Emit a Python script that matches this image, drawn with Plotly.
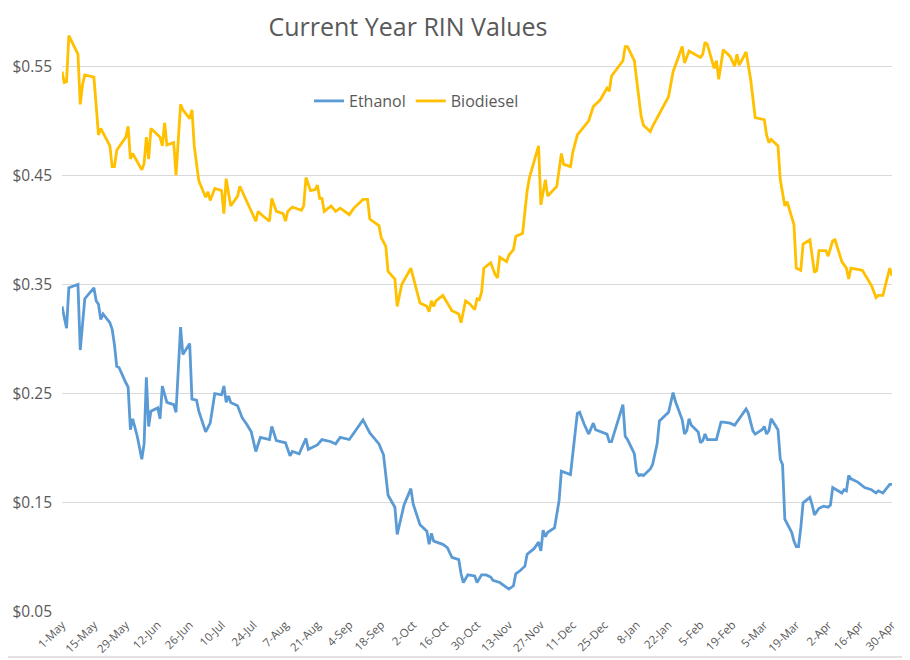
import plotly.graph_objects as go
import pandas as pd

title_text = "Current Year RIN Values"
series_names = ["Ethanol", "Biodiesel"]

bio_dates = ["2017-05-01","2017-05-02","2017-05-03","2017-05-04","2017-05-08","2017-05-09","2017-05-10","2017-05-11","2017-05-15","2017-05-16","2017-05-17","2017-05-18","2017-05-22","2017-05-23","2017-05-24","2017-05-25","2017-05-29","2017-05-30","2017-05-31","2017-06-01","2017-06-05","2017-06-06","2017-06-07","2017-06-08","2017-06-09","2017-06-12","2017-06-13","2017-06-14","2017-06-15","2017-06-16","2017-06-19","2017-06-20","2017-06-22","2017-06-23","2017-06-26","2017-06-27","2017-06-28","2017-06-30","2017-07-03","2017-07-04","2017-07-05","2017-07-07","2017-07-10","2017-07-11","2017-07-12","2017-07-14","2017-07-17","2017-07-18","2017-07-25","2017-07-26","2017-07-28","2017-07-31","2017-08-01","2017-08-03","2017-08-06","2017-08-07","2017-08-08","2017-08-10","2017-08-14","2017-08-15","2017-08-16","2017-08-18","2017-08-20","2017-08-21","2017-08-22","2017-08-23","2017-08-24","2017-08-27","2017-08-29","2017-08-31","2017-09-04","2017-09-06","2017-09-10","2017-09-12","2017-09-13","2017-09-17","2017-09-18","2017-09-20","2017-09-21","2017-09-24","2017-09-25","2017-09-27","2017-10-01","2017-10-03","2017-10-05","2017-10-08","2017-10-09","2017-10-10","2017-10-11","2017-10-12","2017-10-15","2017-10-17","2017-10-19","2017-10-22","2017-10-23","2017-10-25","2017-10-27","2017-10-29","2017-10-30","2017-10-31","2017-11-01","2017-11-02","2017-11-05","2017-11-07","2017-11-08","2017-11-09","2017-11-12","2017-11-13","2017-11-15","2017-11-16","2017-11-19","2017-11-21","2017-11-22","2017-11-26","2017-11-27","2017-11-29","2017-11-30","2017-12-04","2017-12-06","2017-12-07","2017-12-10","2017-12-11","2017-12-13","2017-12-18","2017-12-20","2017-12-23","2017-12-26","2017-12-27","2017-12-28","2018-01-02","2018-01-03","2018-01-04","2018-01-07","2018-01-08","2018-01-10","2018-01-11","2018-01-14","2018-01-15","2018-01-18","2018-01-22","2018-01-24","2018-01-28","2018-01-29","2018-01-31","2018-02-05","2018-02-06","2018-02-07","2018-02-08","2018-02-11","2018-02-12","2018-02-13","2018-02-15","2018-02-18","2018-02-20","2018-02-21","2018-02-22","2018-02-25","2018-02-27","2018-03-01","2018-03-05","2018-03-06","2018-03-07","2018-03-08","2018-03-11","2018-03-12","2018-03-14","2018-03-15","2018-03-18","2018-03-19","2018-03-21","2018-03-22","2018-03-25","2018-03-27","2018-03-28","2018-03-29","2018-04-01","2018-04-02","2018-04-04","2018-04-05","2018-04-08","2018-04-10","2018-04-11","2018-04-12","2018-04-17","2018-04-21","2018-04-23","2018-04-24","2018-04-26","2018-04-29","2018-04-30"]
bio_values = [0.545,0.535,0.536,0.578,0.561,0.515,0.533,0.542,0.540,0.513,0.487,0.493,0.477,0.458,0.458,0.473,0.485,0.495,0.465,0.470,0.455,0.461,0.485,0.465,0.493,0.487,0.485,0.477,0.498,0.478,0.480,0.450,0.515,0.510,0.502,0.510,0.477,0.445,0.430,0.435,0.427,0.438,0.436,0.415,0.447,0.422,0.431,0.440,0.408,0.417,0.413,0.408,0.429,0.417,0.415,0.408,0.417,0.421,0.418,0.422,0.448,0.436,0.437,0.441,0.429,0.429,0.417,0.422,0.417,0.420,0.414,0.420,0.428,0.428,0.410,0.404,0.393,0.385,0.362,0.355,0.330,0.350,0.365,0.349,0.333,0.330,0.325,0.335,0.330,0.335,0.340,0.333,0.326,0.323,0.315,0.335,0.332,0.327,0.337,0.336,0.343,0.365,0.370,0.359,0.356,0.375,0.371,0.377,0.382,0.394,0.397,0.436,0.448,0.477,0.423,0.446,0.431,0.440,0.470,0.460,0.458,0.471,0.487,0.500,0.513,0.519,0.530,0.527,0.541,0.555,0.568,0.568,0.555,0.538,0.504,0.496,0.490,0.495,0.507,0.522,0.545,0.568,0.553,0.564,0.558,0.561,0.572,0.570,0.548,0.555,0.538,0.565,0.559,0.550,0.561,0.551,0.563,0.538,0.503,0.501,0.487,0.480,0.483,0.477,0.446,0.422,0.426,0.405,0.365,0.363,0.387,0.391,0.361,0.363,0.381,0.381,0.376,0.390,0.391,0.371,0.365,0.355,0.365,0.363,0.349,0.338,0.340,0.340,0.365,0.358]

eth_dates = ["2017-05-01","2017-05-02","2017-05-03","2017-05-04","2017-05-08","2017-05-09","2017-05-11","2017-05-15","2017-05-16","2017-05-17","2017-05-18","2017-05-19","2017-05-22","2017-05-23","2017-05-24","2017-05-25","2017-05-26","2017-05-29","2017-05-30","2017-05-31","2017-06-01","2017-06-03","2017-06-05","2017-06-06","2017-06-07","2017-06-08","2017-06-09","2017-06-12","2017-06-13","2017-06-14","2017-06-16","2017-06-19","2017-06-20","2017-06-22","2017-06-23","2017-06-26","2017-06-27","2017-06-29","2017-06-30","2017-07-03","2017-07-05","2017-07-07","2017-07-10","2017-07-11","2017-07-12","2017-07-13","2017-07-14","2017-07-17","2017-07-19","2017-07-21","2017-07-23","2017-07-25","2017-07-27","2017-07-31","2017-08-01","2017-08-03","2017-08-07","2017-08-09","2017-08-10","2017-08-13","2017-08-16","2017-08-17","2017-08-21","2017-08-23","2017-08-27","2017-08-29","2017-08-31","2017-09-04","2017-09-06","2017-09-10","2017-09-13","2017-09-17","2017-09-19","2017-09-21","2017-09-24","2017-09-25","2017-09-28","2017-10-01","2017-10-02","2017-10-05","2017-10-08","2017-10-09","2017-10-10","2017-10-11","2017-10-15","2017-10-17","2017-10-19","2017-10-22","2017-10-23","2017-10-24","2017-10-26","2017-10-29","2017-10-30","2017-11-01","2017-11-03","2017-11-05","2017-11-06","2017-11-09","2017-11-11","2017-11-13","2017-11-15","2017-11-16","2017-11-18","2017-11-20","2017-11-21","2017-11-24","2017-11-26","2017-11-27","2017-11-28","2017-11-29","2017-11-30","2017-12-03","2017-12-05","2017-12-06","2017-12-10","2017-12-13","2017-12-14","2017-12-16","2017-12-18","2017-12-20","2017-12-21","2017-12-26","2017-12-27","2017-12-28","2018-01-02","2018-01-03","2018-01-04","2018-01-07","2018-01-08","2018-01-09","2018-01-10","2018-01-11","2018-01-14","2018-01-15","2018-01-17","2018-01-18","2018-01-22","2018-01-24","2018-01-25","2018-01-28","2018-01-29","2018-01-30","2018-01-31","2018-02-01","2018-02-04","2018-02-05","2018-02-06","2018-02-07","2018-02-08","2018-02-12","2018-02-14","2018-02-15","2018-02-18","2018-02-20","2018-02-25","2018-02-26","2018-02-28","2018-03-01","2018-03-04","2018-03-05","2018-03-06","2018-03-07","2018-03-08","2018-03-11","2018-03-12","2018-03-13","2018-03-14","2018-03-17","2018-03-18","2018-03-19","2018-03-20","2018-03-21","2018-03-22","2018-03-25","2018-03-26","2018-03-27","2018-03-29","2018-03-31","2018-04-02","2018-04-03","2018-04-04","2018-04-08","2018-04-09","2018-04-10","2018-04-11","2018-04-12","2018-04-15","2018-04-18","2018-04-21","2018-04-23","2018-04-24","2018-04-26","2018-04-29","2018-04-30"]
eth_values = [0.330,0.320,0.310,0.347,0.350,0.290,0.337,0.347,0.335,0.332,0.318,0.323,0.315,0.309,0.295,0.275,0.274,0.260,0.256,0.217,0.227,0.211,0.190,0.204,0.265,0.220,0.234,0.237,0.227,0.257,0.242,0.240,0.233,0.311,0.286,0.296,0.245,0.244,0.234,0.215,0.223,0.250,0.249,0.257,0.242,0.248,0.242,0.239,0.228,0.222,0.215,0.197,0.210,0.208,0.220,0.207,0.205,0.193,0.197,0.195,0.209,0.199,0.203,0.208,0.206,0.204,0.210,0.208,0.214,0.226,0.214,0.204,0.194,0.157,0.146,0.121,0.148,0.163,0.149,0.130,0.124,0.112,0.122,0.115,0.112,0.109,0.100,0.098,0.085,0.077,0.084,0.083,0.077,0.084,0.084,0.082,0.079,0.077,0.074,0.071,0.074,0.085,0.088,0.092,0.103,0.108,0.114,0.106,0.125,0.119,0.123,0.127,0.152,0.179,0.176,0.232,0.233,0.222,0.213,0.223,0.217,0.213,0.206,0.206,0.240,0.211,0.208,0.195,0.178,0.175,0.176,0.175,0.181,0.185,0.204,0.225,0.233,0.251,0.243,0.226,0.213,0.216,0.227,0.221,0.215,0.205,0.207,0.213,0.208,0.208,0.224,0.224,0.223,0.221,0.236,0.232,0.216,0.213,0.217,0.220,0.213,0.216,0.227,0.217,0.190,0.185,0.135,0.123,0.115,0.110,0.110,0.127,0.150,0.155,0.148,0.139,0.145,0.147,0.146,0.148,0.164,0.159,0.162,0.161,0.175,0.172,0.169,0.164,0.162,0.159,0.161,0.159,0.167,0.167]

tick_dates = pd.date_range("2017-05-01", "2018-04-30", freq="14D")
y_ticks = [0.05, 0.15, 0.25, 0.35, 0.45, 0.55]

fig = go.Figure()
fig.add_trace(go.Scatter(x=eth_dates, y=eth_values, mode="lines", name=series_names[0],
                         line=dict(color="#5B9BD5", width=2.8)))
fig.add_trace(go.Scatter(x=bio_dates, y=bio_values, mode="lines", name=series_names[1],
                         line=dict(color="#FFC000", width=2.8)))

grey = "#595959"
W, H = 902, 652          # page body has an 8px margin
L, R, T, B = 54, 18, 20, 48
PW, PH = W - L - R, H - T - B

fig.update_layout(
    width=W, height=H,
    paper_bgcolor="white", plot_bgcolor="white",
    margin=dict(l=L, r=R, t=T, b=B, autoexpand=False),
    title=dict(text=title_text, x=400/W, xanchor="center", y=1-19/H, yanchor="middle",
               font=dict(family="Open Sans", size=25, color=grey)),
    font=dict(family="Open Sans", color=grey),
    showlegend=True,
    legend=dict(orientation="h", x=(301-54)/PW, xanchor="left", y=1-(93-T)/PH, yanchor="middle",
                font=dict(family="Open Sans", size=16, color=grey), bgcolor="rgba(0,0,0,0)",
                itemwidth=30, traceorder="normal"),
    xaxis=dict(type="date", range=["2017-05-01", "2018-04-30"], tickvals=tick_dates,
               tickformat="%-d-%b", tickangle=-45, showgrid=False, zeroline=False,
               showline=False, ticks="", tickfont=dict(family="Open Sans", size=11.5, color=grey),
               ticklabelstandoff=3, automargin=False),
    yaxis=dict(range=[0.05, 0.585], tickvals=y_ticks, tickformat="$.2f", showgrid=True,
               gridcolor="#D9D9D9", gridwidth=1, zeroline=False, showline=False, ticks="",
               tickfont=dict(family="Open Sans", size=15.5, color=grey),
               ticklabelstandoff=9, automargin=False),
    shapes=[
        dict(type="line", xref="paper", yref="paper",
             x0=(899-L)/PW, x1=(899-L)/PW, y0=-(649-(H-B))/PH, y1=1+T/PH,
             line=dict(color="#D9D9D9", width=1.5), layer="below"),
        dict(type="line", xref="paper", yref="paper",
             x0=-L/PW, x1=(899-L)/PW, y0=-(649-(H-B))/PH, y1=-(649-(H-B))/PH,
             line=dict(color="#D9D9D9", width=1.5), layer="below"),
    ],
)

fig.write_html("out.html")
